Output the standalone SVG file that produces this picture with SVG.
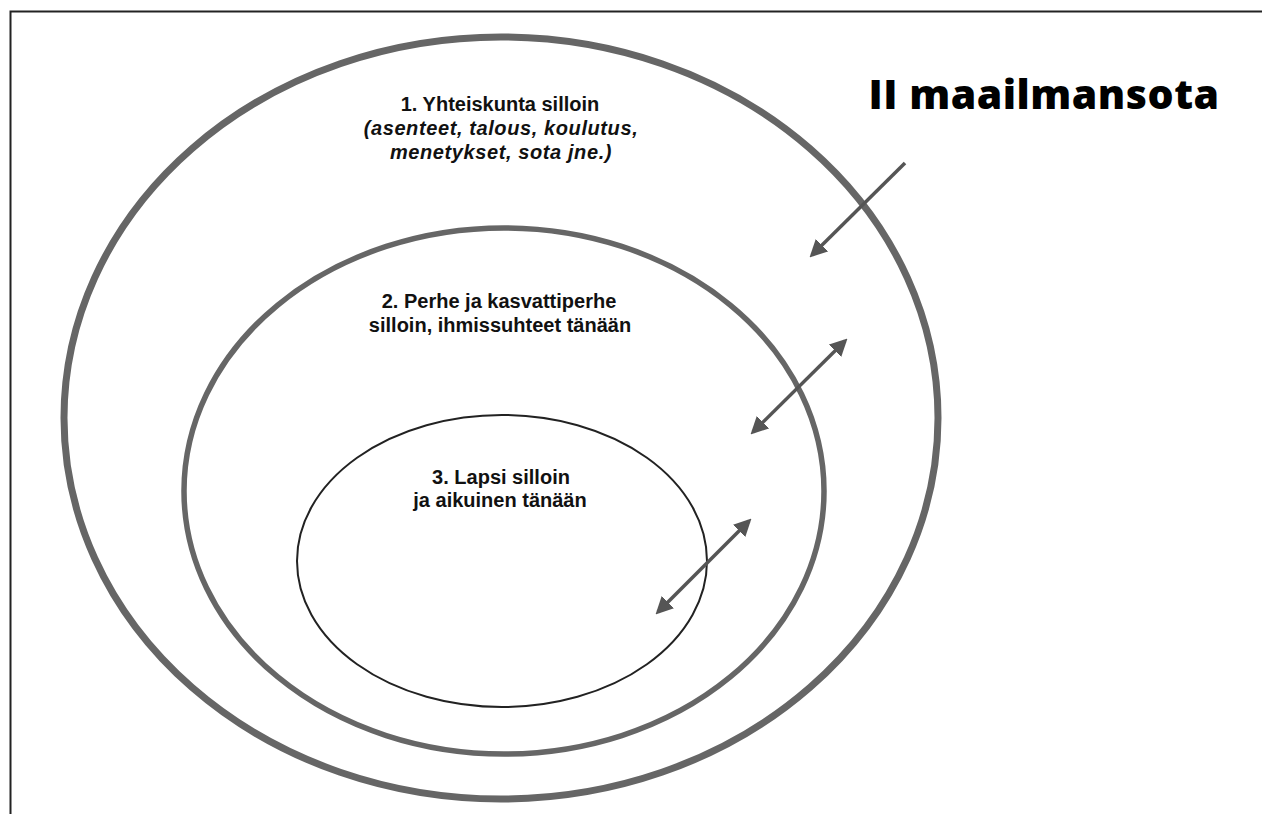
<svg xmlns="http://www.w3.org/2000/svg" width="1262" height="814" viewBox="0 0 1262 814">
<style>
.t{font-family:"Liberation Sans",Arial,sans-serif;font-weight:bold;font-size:20px;fill:#111;text-anchor:middle}
.i{font-style:italic;letter-spacing:0.6px}
.ring{fill:none;stroke:#666}
.c{stroke:#555;stroke-width:3.5;fill:none}
</style>
<defs>
<marker id="ah" viewBox="0 0 10 10" refX="8" refY="5" markerWidth="5" markerHeight="5" orient="auto-start-reverse" markerUnits="strokeWidth">
<path d="M0,0 L10,5 L0,10 z" fill="#555"/>
</marker>
</defs>
<rect width="1262" height="814" fill="#fff"/>
<path d="M10.5,814 V11.5 H1262" fill="none" stroke="#222" stroke-width="2"/>
<g id="ring1"><ellipse class="ring" cx="501" cy="418" rx="437" ry="381" stroke-width="7"/>
<text class="t" x="500" y="111">1. Yhteiskunta silloin</text>
<text class="t i" x="501" y="135">(asenteet, talous, koulutus,</text>
<text class="t i" x="501" y="159">menetykset, sota jne.)</text></g>
<g id="ring2"><ellipse class="ring" cx="504" cy="491" rx="320" ry="263" stroke-width="5.5"/>
<text class="t" x="499" y="308">2. Perhe ja kasvattiperhe</text>
<text class="t" x="500" y="332">silloin, ihmissuhteet tänään</text></g>
<g id="ring3"><ellipse cx="502" cy="561" rx="205" ry="146" fill="none" stroke="#222" stroke-width="2"/>
<text class="t" x="501" y="484">3. Lapsi silloin</text>
<text class="t" x="500" y="507">ja aikuinen tänään</text></g>
<g id="title"><text x="1044" y="109" font-family="'Open Sans','Liberation Sans',sans-serif" font-weight="800" font-size="41" fill="#000" text-anchor="middle" letter-spacing="0.5">II maailmansota</text></g>
<g id="connectors">
<line class="c" x1="905" y1="163" x2="812" y2="255" marker-end="url(#ah)"/>
<line class="c" x1="845" y1="341" x2="753" y2="432" marker-start="url(#ah)" marker-end="url(#ah)"/>
<line class="c" x1="749" y1="521" x2="658" y2="612" marker-start="url(#ah)" marker-end="url(#ah)"/>
</g>
</svg>
